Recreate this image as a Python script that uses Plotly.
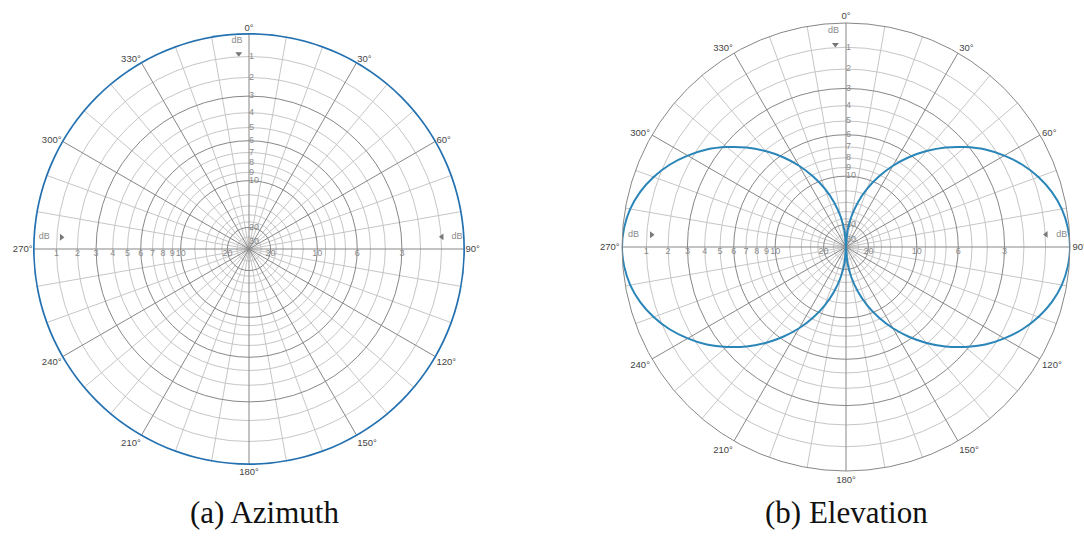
import plotly.graph_objects as go

# ---------------- data ----------------
# angles in degrees (0 = up, clockwise), 5 degree steps
angles = [0, 5, 10, 15, 20, 25, 30, 35, 40, 45, 50, 55, 60, 65, 70, 75, 80, 85, 90,
          95, 100, 105, 110, 115, 120, 125, 130, 135, 140, 145, 150, 155, 160, 165, 170, 175, 180,
          185, 190, 195, 200, 205, 210, 215, 220, 225, 230, 235, 240, 245, 250, 255, 260, 265, 270,
          275, 280, 285, 290, 295, 300, 305, 310, 315, 320, 325, 330, 335, 340, 345, 350, 355, 360]

# azimuth pattern: relative field strength (omnidirectional)
azimuth_field = [1.0, 1.0, 1.0, 1.0, 1.0, 1.0, 1.0, 1.0, 1.0, 1.0, 1.0, 1.0, 1.0, 1.0, 1.0, 1.0, 1.0, 1.0, 1.0,
                 1.0, 1.0, 1.0, 1.0, 1.0, 1.0, 1.0, 1.0, 1.0, 1.0, 1.0, 1.0, 1.0, 1.0, 1.0, 1.0, 1.0, 1.0,
                 1.0, 1.0, 1.0, 1.0, 1.0, 1.0, 1.0, 1.0, 1.0, 1.0, 1.0, 1.0, 1.0, 1.0, 1.0, 1.0, 1.0, 1.0,
                 1.0, 1.0, 1.0, 1.0, 1.0, 1.0, 1.0, 1.0, 1.0, 1.0, 1.0, 1.0, 1.0, 1.0, 1.0, 1.0, 1.0, 1.0]

# elevation pattern: relative field strength (figure-eight)
elevation_field = [0.0, 0.069, 0.137, 0.207, 0.277, 0.347, 0.419, 0.489, 0.559, 0.628, 0.694, 0.759, 0.816, 0.869, 0.914, 0.951, 0.978, 0.994, 1.0,
                   0.994, 0.978, 0.951, 0.914, 0.869, 0.816, 0.759, 0.694, 0.628, 0.559, 0.489, 0.419, 0.347, 0.277, 0.207, 0.137, 0.069, 0.0,
                   0.069, 0.137, 0.207, 0.277, 0.347, 0.419, 0.489, 0.559, 0.628, 0.694, 0.759, 0.816, 0.869, 0.914, 0.951, 0.978, 0.994, 1.0,
                   0.994, 0.978, 0.951, 0.914, 0.869, 0.816, 0.759, 0.694, 0.628, 0.559, 0.489, 0.419, 0.347, 0.277, 0.207, 0.137, 0.069, 0.0]

# grid rings in dB below maximum
light_rings_db = [1, 2, 4, 5, 7, 8, 9, 12, 14, 16, 18, 25]
dark_rings_db = [3, 6, 10, 20]
light_spokes = [a for a in range(0, 360, 10) if a % 30]
dark_spokes = list(range(0, 360, 30))
spoke_labels = [f"{a}°" for a in dark_spokes]

# dB scale labels
vert_label_db = [1, 2, 3, 4, 5, 6, 7, 8, 9, 10, 20, 30]
left_label_db = [1, 2, 3, 4, 5, 6, 7, 8, 9, 10, 20]
right_label_db = [20, 10, 6, 3]

captions = ["(a) Azimuth", "(b) Elevation"]


def db_to_r(db):
    return 10 ** (-db / 20.0)


W, H = 1084, 536
LIGHT = "#c6c6c6"
DARK = "#878787"
LABEL = "#8a8a8a"

fig = go.Figure()


def dom(cx, cy, R):
    return dict(x=[(cx - R) / W, (cx + R) / W], y=[(H - cy - R) / H, (H - cy + R) / H])


def add_chart(light_key, dark_key, cx, cy, R, field_theta, field_r, color, width, outline):
    d = dom(cx, cy, R)
    fig.update_layout(**{
        light_key: dict(
            domain=d, bgcolor="white",
            radialaxis=dict(range=[0, 1], tickvals=[db_to_r(v) for v in light_rings_db],
                            showticklabels=False, ticks="", showline=False,
                            gridcolor=LIGHT, gridwidth=1),
            angularaxis=dict(rotation=90, direction="clockwise", tickvals=light_spokes,
                             showticklabels=False, ticks="", showline=False,
                             gridcolor=LIGHT, gridwidth=1),
        ),
        dark_key: dict(
            domain=d, bgcolor="rgba(0,0,0,0)",
            radialaxis=dict(range=[0, 1], tickvals=[db_to_r(v) for v in dark_rings_db],
                            showticklabels=False, ticks="", showline=False,
                            gridcolor=DARK, gridwidth=1),
            angularaxis=dict(rotation=90, direction="clockwise", tickvals=dark_spokes,
                             ticktext=spoke_labels, ticks="", showline=outline,
                             linecolor=DARK, linewidth=1,
                             gridcolor=DARK, gridwidth=1,
                             tickfont=dict(family="Liberation Sans", size=9.5, color="#444")),
        ),
    })
    # keep the light grid subplot alive
    fig.add_trace(go.Scatterpolar(r=[0], theta=[0], mode="markers",
                                  marker=dict(size=1, color="rgba(0,0,0,0)"),
                                  subplot=light_key, showlegend=False, hoverinfo="skip"))
    # scale labels
    lab_font = dict(family="Liberation Sans", size=9, color=LABEL)
    fig.add_trace(go.Scatterpolar(r=[db_to_r(v) for v in vert_label_db], theta=[0] * len(vert_label_db),
                                  mode="text", text=[str(v) for v in vert_label_db],
                                  textposition="middle right", textfont=lab_font,
                                  subplot=dark_key, showlegend=False, hoverinfo="skip"))
    fig.add_trace(go.Scatterpolar(r=[db_to_r(v) for v in left_label_db], theta=[270] * len(left_label_db),
                                  mode="text", text=[str(v) for v in left_label_db],
                                  textposition="bottom center", textfont=lab_font,
                                  subplot=dark_key, showlegend=False, hoverinfo="skip"))
    fig.add_trace(go.Scatterpolar(r=[db_to_r(v) for v in right_label_db], theta=[90] * len(right_label_db),
                                  mode="text", text=[str(v) for v in right_label_db],
                                  textposition="bottom center", textfont=lab_font,
                                  subplot=dark_key, showlegend=False, hoverinfo="skip"))
    # "dB" markers with pointers
    fig.add_trace(go.Scatterpolar(r=[0.965, 0.95, 0.965], theta=[356.7, 273.3, 86.7],
                                  mode="text", text=["dB", "dB", "dB"], textfont=lab_font,
                                  subplot=dark_key, showlegend=False, hoverinfo="skip"))
    fig.add_trace(go.Scatterpolar(r=[0.905, 0.87, 0.895], theta=[357, 273.6, 86.4],
                                  mode="markers",
                                  marker=dict(symbol=["triangle-down", "triangle-right", "triangle-left"],
                                              size=6, color="#777"),
                                  subplot=dark_key, showlegend=False, hoverinfo="skip"))
    # pattern
    fig.add_trace(go.Scatterpolar(r=field_r, theta=field_theta, mode="lines",
                                  line=dict(color=color, width=width, shape="spline", smoothing=1),
                                  cliponaxis=False,
                                  subplot=dark_key, showlegend=False, hoverinfo="skip"))


add_chart("polar", "polar2", 249, 249, 216, angles, azimuth_field, "#2270b0", 3.4, False)
add_chart("polar3", "polar4", 846, 247, 224, angles, elevation_field, "#2a85b8", 2, True)

for cx, text in zip([264, 846], captions):
    fig.add_annotation(x=cx / W, y=(H - 512) / H, xref="paper", yref="paper",
                       text=text, showarrow=False, xanchor="center", yanchor="middle",
                       font=dict(family="Liberation Serif", size=31, color="#111"))

fig.update_layout(width=W, height=H, margin=dict(l=0, r=0, t=0, b=0),
                  paper_bgcolor="white", plot_bgcolor="white", showlegend=False)

fig.write_html("out.html")
